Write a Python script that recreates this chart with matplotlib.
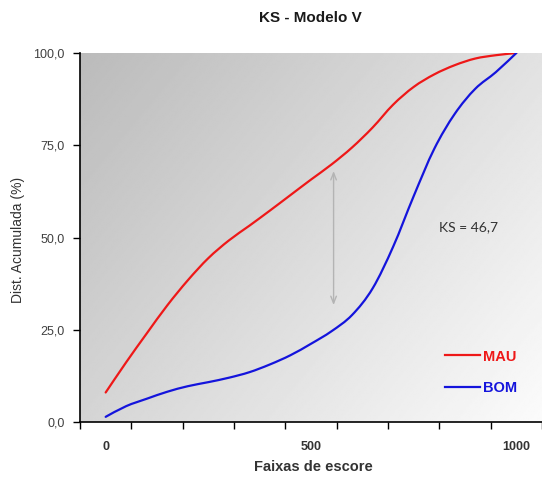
import matplotlib
matplotlib.use('Agg')
import matplotlib.pyplot as plt
import numpy as np
from matplotlib.path import Path
from matplotlib.patches import PathPatch
from matplotlib.lines import Line2D
from matplotlib.ticker import FixedLocator, FuncFormatter

plt.rcParams['font.family'] = ['Liberation Sans', 'DejaVu Sans']

# Cumulative distributions per score band
escore = [0, 50, 100, 150, 200, 250, 300, 350, 400, 450, 500,
          550, 600, 650, 700, 750, 800, 850, 900, 950, 1000]
mau = [8.0, 16.2, 24.0, 31.6, 38.4, 44.4, 49.2, 53.2, 57.3, 61.5, 65.7,
       69.8, 74.4, 79.8, 86.0, 90.8, 94.2, 96.7, 98.5, 99.4, 100.0]
bom = [1.4, 4.3, 6.3, 8.2, 9.7, 10.8, 12.0, 13.5, 15.6, 18.1, 21.2,
       24.6, 29.0, 36.2, 47.5, 61.2, 74.0, 83.5, 90.3, 94.8, 100.0]
ks_text = 'KS = 46,7'
ks_arrow_x = 555
ks_arrow_top, ks_arrow_bottom = 68.0, 31.7


def smooth_path(xs, ys):
    # smoothed line: cubic Bezier segments through every point (Catmull-Rom style)
    p = np.column_stack([xs, ys]).astype(float)
    n = len(p)
    verts = [p[0]]
    codes = [Path.MOVETO]
    for i in range(n - 1):
        p0 = p[i - 1] if i > 0 else p[i]
        p3 = p[i + 2] if i + 2 < n else p[i + 1]
        c1 = p[i] + (p[i + 1] - p0) / 6.0
        c2 = p[i + 1] - (p3 - p[i]) / 6.0
        verts += [c1, c2, p[i + 1]]
        codes += [Path.CURVE4] * 3
    return Path(verts, codes)


fig = plt.figure(figsize=(5.42, 4.79), dpi=100)
ax = fig.add_axes([80 / 542, 57 / 479, 462 / 542, 369 / 479])

xmin, xmax = -62.5, 1062.5
ax.set_xlim(xmin, xmax)
ax.set_ylim(0, 100)

# diagonal gray gradient behind the plot
gx, gy = np.meshgrid(np.linspace(0, 1, 300), np.linspace(0, 1, 300))
shade = 0.6 * gx + 0.4 * gy  # gy = 0 at top row (origin upper)
ax.imshow(shade, cmap='gray', vmin=-2.9, vmax=1.06, extent=[xmin, xmax, 0, 100],
          aspect='auto', origin='upper', zorder=0, interpolation='bilinear')

series = [('MAU', mau, '#ee1818'), ('BOM', bom, '#1414dc')]
handles = []
for name, vals, col in series:
    ax.add_patch(PathPatch(smooth_path(escore, vals), facecolor='none',
                           edgecolor=col, linewidth=1.6, zorder=3, capstyle='round'))
    handles.append(Line2D([], [], color=col, linewidth=1.6, label=name))

ax.annotate('', xy=(ks_arrow_x, ks_arrow_bottom), xytext=(ks_arrow_x, ks_arrow_top),
            arrowprops=dict(arrowstyle='<->,head_length=0.5,head_width=0.2',
                            color='#b4b4b4', lw=1.0, shrinkA=0, shrinkB=0), zorder=2)
ax.text(883, 52.7, ks_text, fontsize=10, color='#333333', family=['Lato', 'DejaVu Sans'],
        ha='center', va='center', zorder=4)

# spines and ticks
for s in ['top', 'right']:
    ax.spines[s].set_visible(False)
for s in ['left', 'bottom']:
    ax.spines[s].set_color('black')
    ax.spines[s].set_linewidth(1.2)

ax.set_yticks([0, 25, 50, 75, 100])
ax.yaxis.set_major_formatter(FuncFormatter(lambda v, p: f'{v:.1f}'.replace('.', ',')))
ax.tick_params(axis='y', direction='out', length=5, width=1, colors='black',
               labelsize=9, labelcolor='#404040', pad=6)

ax.set_xticks([0, 500, 1000])
ax.set_xticklabels(['0', '500', '1000'], fontweight='bold')
ax.xaxis.set_minor_locator(FixedLocator(np.arange(xmin, xmax + 1, 125)))
ax.tick_params(axis='x', which='major', length=0, labelsize=9, labelcolor='#333333', pad=14)
ax.tick_params(axis='x', which='minor', direction='out', length=5, width=1, colors='black')

leg = ax.legend(handles=handles, loc='lower left', bbox_to_anchor=(0.79, 0.073),
                frameon=False, handlelength=2.4, handletextpad=0.2, labelspacing=1.2,
                borderpad=0, borderaxespad=0, prop={'weight': 'bold', 'size': 10.5})
for line, txt in zip(leg.get_lines(), leg.get_texts()):
    txt.set_color(line.get_color())

fig.text(0.573, 0.963, 'KS - Modelo V', ha='center', va='center',
         fontsize=11, fontweight='bold', color='#1a1a1a')
fig.text(0.578, 0.025, 'Faixas de escore', ha='center', va='center',
         fontsize=10.5, fontweight='bold', color='#333333')
fig.text(0.033, 0.5, 'Dist. Acumulada (%)', ha='center', va='center',
         rotation=90, fontsize=10, color='#333333')

fig.savefig('out.png', dpi=100)
